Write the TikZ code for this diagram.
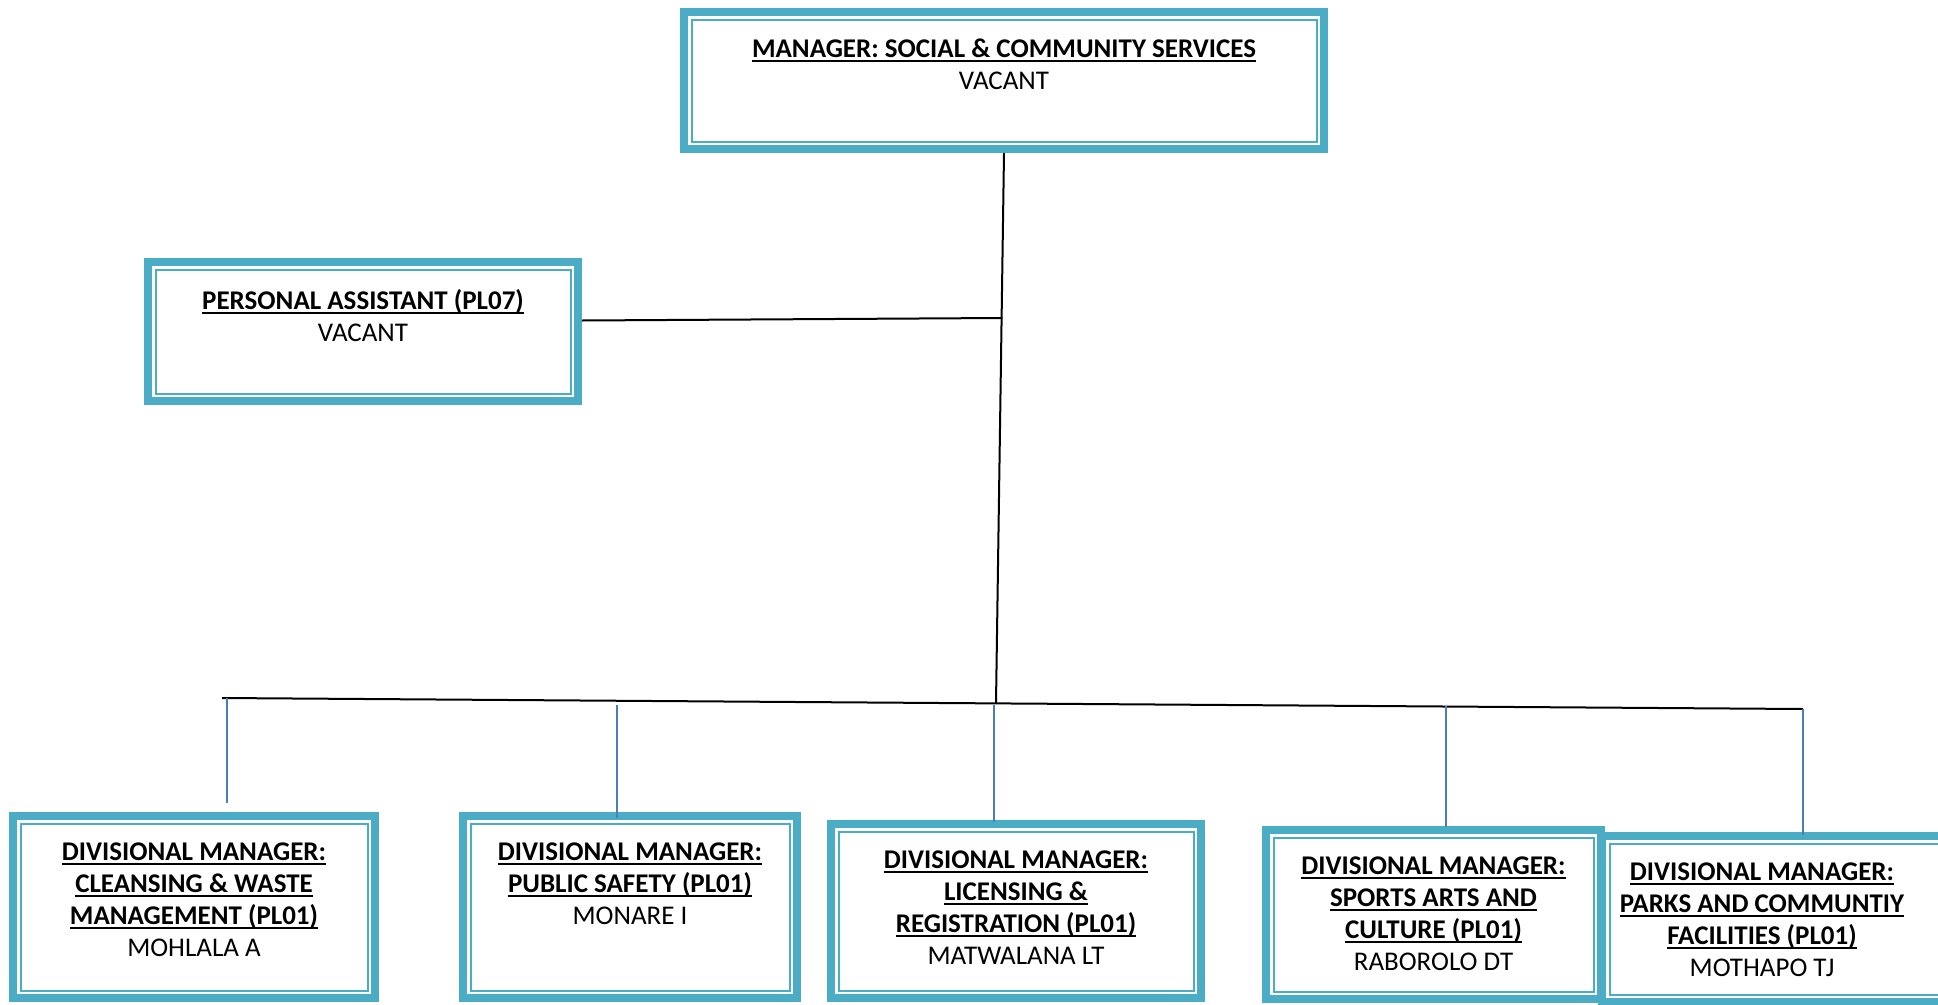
\documentclass[tikz,border=0pt]{standalone}
\usepackage{fontspec}
\setmainfont{Carlito}
\usetikzlibrary{positioning}
\definecolor{boxblue}{HTML}{4BACC6}
\definecolor{lineblue}{HTML}{4A7EBB}
\newsavebox{\ulinebox}
\providecommand{\uhead}[1]{\sbox\ulinebox{\bfseries #1}\rlap{\rule[-4.5pt]{\wd\ulinebox}{2pt}}\usebox\ulinebox}

\tikzset{
  orgbox/.style={draw=boxblue, line width=8pt, fill=white,
    path picture={\draw[boxblue, line width=2pt]
      ([shift={(7.5pt,-7.5pt)}]path picture bounding box.north west) rectangle
      ([shift={(-7.5pt,7.5pt)}]path picture bounding box.south east);}},
  orgtext/.style={align=center, inner sep=0pt, outer sep=0pt, font=\fontsize{27}{32}\selectfont},
  reportline/.style={black, line width=2pt},
  branchline/.style={lineblue, line width=2pt}
}

\begin{document}
\begin{tikzpicture}[x=1pt, y=-1pt]
\useasboundingbox (0,0) rectangle (1938,1004);
\clip (0,0) rectangle (1938,1004);

% Define nodes
\node[orgbox, minimum width=640pt, minimum height=137pt] (mgr) at (1004,80.5) {};
\node[orgbox, minimum width=430pt, minimum height=139pt] (pa) at (363,331.5) {};
\node[orgbox, minimum width=362pt, minimum height=182pt] (div1) at (194,907) {};
\node[orgbox, minimum width=334pt, minimum height=182pt] (div2) at (630,907) {};
\node[orgbox, minimum width=370pt, minimum height=174pt] (div3) at (1016,911) {};
\node[orgbox, minimum width=388pt, minimum height=166pt] (div5) at (1796,919) {};
\node[orgbox, minimum width=335pt, minimum height=169pt] (div4) at (1433.5,914.5) {};

% Texts
\node[orgtext, below=31pt of mgr.north] (mgr-txt) {\uhead{MANAGER: SOCIAL \& COMMUNITY SERVICES}\\VACANT};
\node[orgtext, below=31pt of pa.north] (pa-txt) {\uhead{PERSONAL ASSISTANT (PL07)}\\VACANT};
\node[orgtext, below=31pt of div1.north] (div1-txt) {\uhead{DIVISIONAL MANAGER:}\\\uhead{CLEANSING \& WASTE}\\\uhead{MANAGEMENT (PL01)}\\MOHLALA A};
\node[orgtext, below=31pt of div2.north] (div2-txt) {\uhead{DIVISIONAL MANAGER:}\\\uhead{PUBLIC SAFETY (PL01)}\\MONARE I};
\node[orgtext, below=31pt of div3.north] (div3-txt) {\uhead{DIVISIONAL MANAGER:}\\\uhead{LICENSING \&}\\\uhead{REGISTRATION (PL01)}\\MATWALANA LT};
\node[orgtext, below=31pt of div4.north] (div4-txt) {\uhead{DIVISIONAL MANAGER:}\\\uhead{SPORTS ARTS AND}\\\uhead{CULTURE (PL01)}\\RABOROLO DT};
\node[orgtext, below=31pt of div5.north, xshift=-34pt] (div5-txt) {\uhead{DIVISIONAL MANAGER:}\\\uhead{PARKS AND COMMUNTIY}\\\uhead{FACILITIES (PL01)}\\MOTHAPO TJ};

% Connect the nodes
\coordinate (hub) at (996,703);
\coordinate (pa-join) at (1002.3,318);
\coordinate (bus-w) at (222,698);
\coordinate (bus-e) at (1803,709);
\draw[reportline] (mgr.south) -- (hub);
\draw[reportline] ([yshift=11pt]pa.east) -- (pa-join);
\draw[reportline] (bus-w) -- (bus-e);
\foreach \n/\x/\y/\gap in {1/226.5/698/9, 2/617/705/-6, 3/994/705/-2, 4/1446/706/-1, 5/1803/709/-3}{
  \coordinate (tap\n) at (\x,\y);
  \draw[branchline, shorten >=\gap pt] (tap\n) -- (tap\n |- div\n.north);
}

\end{tikzpicture}
\end{document}
